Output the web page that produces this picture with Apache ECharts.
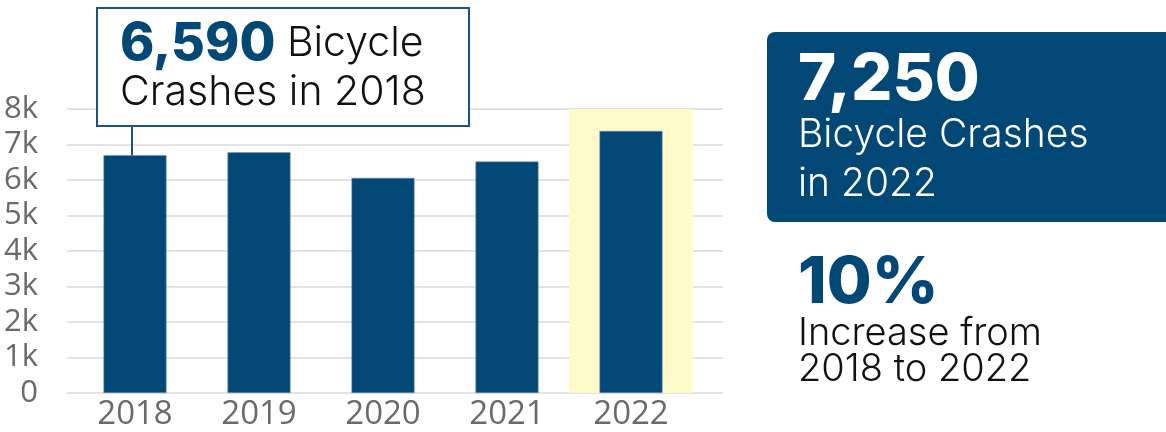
<!DOCTYPE html>
<html><head><meta charset="utf-8">
<script src="https://cdn.jsdelivr.net/npm/echarts@6/dist/echarts.min.js"></script>
<style>html,body{margin:0;padding:0;background:#fff}#c{width:1166px;height:432px}</style>
</head><body><div id="c"></div>
<script>
// ---- data ----
const years = ['2018', '2019', '2020', '2021', '2022'];
const crashes = [6700, 6780, 6060, 6520, 7380];
const yMin = 0, yMax = 8000, yStep = 1000;
const highlightYear = '2022';
const calloutNumber = '6,590';
const calloutText1 = 'Bicycle';
const calloutText2 = 'Crashes in 2018';
const panelNumber = '7,250';
const panelText = ['Bicycle Crashes', 'in 2022'];
const changeNumber = '10%';
const changeText = ['Increase from', '2018 to 2022'];

// ---- styles ----
const BLUE = '#024877';
const GRID = '#dadada';
const AXIS_TXT = '#6a6a6a';
const HEAD = 'Inter';
const LIGHT = 300;

const highlight = years.map(y => y === highlightYear ? yMax : null);

const chart = echarts.init(document.getElementById('c'), null, {renderer: 'canvas'});
const gTop = 109, gBottom = 432 - 393;
chart.setOption({
  animation: false,
  grid: [
    {left: 67, right: 1166 - 723, top: gTop, bottom: gBottom},
    {left: 73, right: 1166 - 693, top: gTop, bottom: gBottom}
  ],
  xAxis: [
    {gridIndex: 0, type: 'category', data: years, show: false},
    {gridIndex: 1, type: 'category', data: years,
     axisLine: {show: false}, axisTick: {show: false},
     axisLabel: {fontFamily: 'Open Sans', fontSize: 33, color: AXIS_TXT, margin: 5}},
    {gridIndex: 1, type: 'category', data: years, show: false}
  ],
  yAxis: [
    {gridIndex: 0, type: 'value', min: yMin, max: yMax, interval: yStep,
     axisLine: {show: false}, axisTick: {show: false},
     splitLine: {lineStyle: {color: GRID, width: 1.5}},
     axisLabel: {fontFamily: 'Open Sans', fontSize: 31, color: AXIS_TXT, margin: 29,
       formatter: v => v === 0 ? '0' : (v / 1000) + 'k'}},
    {gridIndex: 1, type: 'value', min: yMin, max: yMax, interval: yStep, show: false,
     splitLine: {show: false}}
  ],
  series: [
    {type: 'bar', xAxisIndex: 2, yAxisIndex: 1, data: highlight, barWidth: '100%',
     itemStyle: {color: '#fffac9'}, z: 1, silent: true},
    {type: 'bar', xAxisIndex: 1, yAxisIndex: 1, data: crashes, barWidth: 63,
     itemStyle: {color: BLUE, borderColor: '#6f8fae', borderWidth: 0.6}, z: 2}
  ]
});

// callout connector tied to first bar
const p = chart.convertToPixel({xAxisIndex: 1, yAxisIndex: 1}, [years[0], crashes[0]]);
const boxL = 97, boxT = 8, boxW = 372, boxH = 118;
chart.setOption({
  graphic: [
    {type: 'line', shape: {x1: p[0] - 3, y1: boxT + boxH, x2: p[0] - 3, y2: p[1]},
     style: {stroke: '#1e527f', lineWidth: 2}, z: 10},
    {type: 'rect', shape: {x: boxL, y: boxT, width: boxW, height: boxH},
     style: {fill: '#fff', stroke: '#1e527f', lineWidth: 2}, z: 10},
    {type: 'text', x: 120, y: 44, z: 11,
     style: {text: '{n|' + calloutNumber + '}{t| ' + calloutText1 + '}', verticalAlign: 'middle',
       rich: {n: {fontFamily: HEAD, fontWeight: 800, fontSize: 52, fill: BLUE},
              t: {fontFamily: HEAD, fontWeight: LIGHT, fontSize: 41, fill: '#111'}}}},
    {type: 'text', x: 120, y: 93, z: 11,
     style: {text: calloutText2, verticalAlign: 'middle', fontFamily: HEAD, fontWeight: LIGHT, fontSize: 41, fill: '#111'}},
    {type: 'rect', shape: {x: 767, y: 32, width: 430, height: 190, r: 8},
     style: {fill: BLUE}, z: 10},
    {type: 'text', x: 798, y: 80, z: 11,
     style: {text: panelNumber, verticalAlign: 'middle', fontFamily: HEAD, fontWeight: 800, fontSize: 65, fill: '#fff'}},
    {type: 'text', x: 798, y: 135, z: 11,
     style: {text: panelText[0], verticalAlign: 'middle', fontFamily: HEAD, fontWeight: LIGHT, fontSize: 39, fill: '#fff'}},
    {type: 'text', x: 798, y: 184, z: 11,
     style: {text: panelText[1], verticalAlign: 'middle', fontFamily: HEAD, fontWeight: LIGHT, fontSize: 39, fill: '#fff'}},
    {type: 'text', x: 798, y: 283, z: 11,
     style: {text: changeNumber, verticalAlign: 'middle', fontFamily: HEAD, fontWeight: 800, fontSize: 65, fill: BLUE}},
    {type: 'text', x: 798, y: 334, z: 11,
     style: {text: changeText[0], verticalAlign: 'middle', fontFamily: HEAD, fontWeight: LIGHT, fontSize: 38, fill: '#111'}},
    {type: 'text', x: 798, y: 370, z: 11,
     style: {text: changeText[1], verticalAlign: 'middle', fontFamily: HEAD, fontWeight: LIGHT, fontSize: 38, fill: '#111'}}
  ]
});
</script></body></html>
